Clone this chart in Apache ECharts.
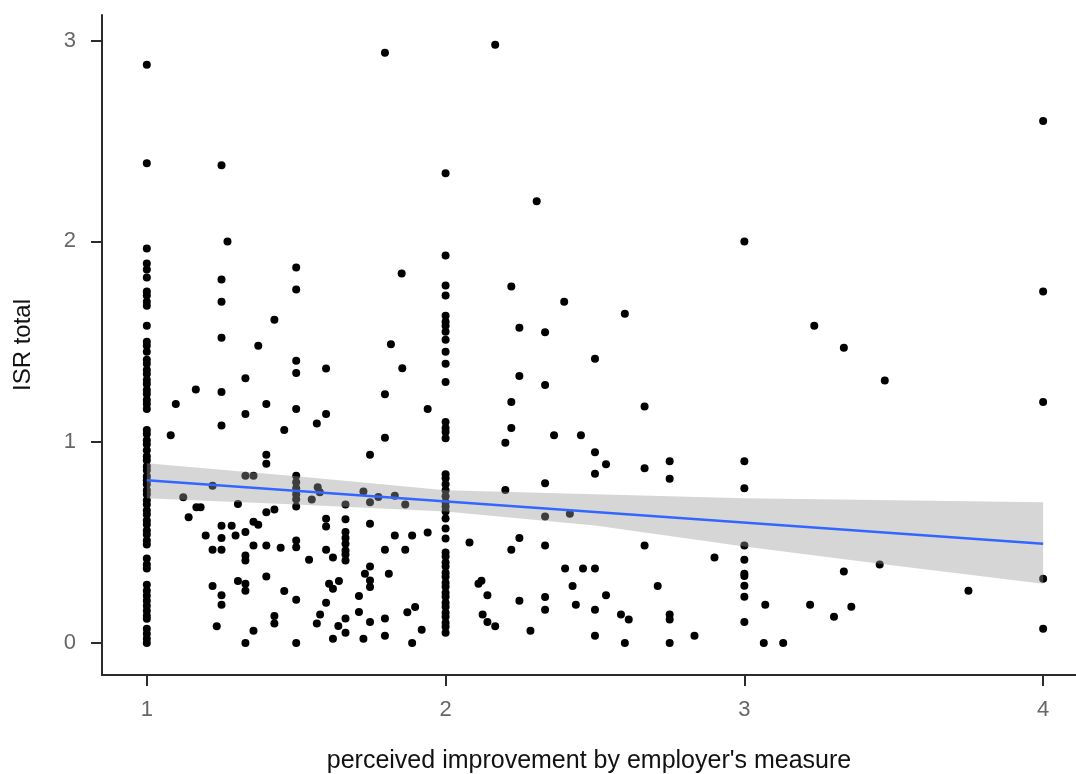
<!DOCTYPE html>
<html>
<head>
<meta charset="utf-8">
<script src="https://cdn.jsdelivr.net/npm/echarts@6/dist/echarts.min.js"></script>
<style>
html,body{margin:0;padding:0;background:#fff;}
#chart{width:1076px;height:774px;}
</style>
</head>
<body>
<div id="chart"></div>
<script>
// ---- data ----
const xTickValues = [1, 2, 3, 4];
const xTickLabels = ['1', '2', '3', '4'];
const yTickValues = [0, 1, 2, 3];
const yTickLabels = ['0', '1', '2', '3'];

const xTitle = "perceived improvement by employer's measure";
const yTitle = 'ISR total';

// stacked columns of respondents at a single x value
const col1x = 1;
const col1y = [2.88, 2.39, 1.965, 1.89, 1.86, 1.82, 1.75, 1.73, 1.70, 1.68, 1.58, 1.50, 1.48, 1.45, 1.41, 1.39, 1.36, 1.34, 1.31, 1.29, 1.26, 1.24, 1.21, 1.19, 1.165, 1.06, 1.04, 1.01, 0.99, 0.96, 0.93, 0.91, 0.88, 0.86, 0.83, 0.81, 0.79, 0.76, 0.74, 0.71, 0.69, 0.66, 0.64, 0.61, 0.59, 0.56, 0.54, 0.51, 0.49, 0.42, 0.39, 0.37, 0.29, 0.26, 0.235, 0.21, 0.185, 0.16, 0.135, 0.12, 0.07, 0.045, 0.02, 0.0];
const col2x = 2;
const col2y = [2.34, 1.93, 1.78, 1.73, 1.63, 1.60, 1.58, 1.55, 1.51, 1.45, 1.39, 1.30, 1.10, 1.07, 1.05, 1.02, 0.84, 0.82, 0.79, 0.76, 0.73, 0.70, 0.68, 0.655, 0.62, 0.57, 0.52, 0.45, 0.43, 0.40, 0.38, 0.35, 0.33, 0.30, 0.28, 0.25, 0.23, 0.20, 0.18, 0.15, 0.13, 0.10, 0.08, 0.05];
const col3x = 3;
const col3y = [2.0, 0.905, 0.77, 0.485, 0.414, 0.345, 0.333, 0.285, 0.23, 0.104];
const col4x = 4;
const col4y = [2.6, 1.75, 1.20, 0.32, 0.07];
const col15x = 1.5;
const col15y = [1.87, 1.76, 1.405, 1.345, 1.165, 0.833, 0.80, 0.77, 0.74, 0.715, 0.68, 0.51, 0.477, 0.215, 0.0];
const col125x = 1.25;
const col125y = [2.38, 1.81, 1.70, 1.52, 1.25, 1.083, 0.584, 0.522, 0.464, 0.237, 0.19];
const col133x = 1.33;
const col133y = [1.318, 1.14, 0.833, 0.552, 0.435, 0.41, 0.295, 0.26, 0.0];
const col1667x = 1.665;
const col1667y = [0.69, 0.616, 0.552, 0.522, 0.494, 0.46, 0.44, 0.41, 0.121, 0.051];
const col175x = 1.747;
const col175y = [0.937, 0.70, 0.593, 0.381, 0.311, 0.278, 0.104];
const col16x = 1.6;
const col16y = [1.367, 1.14, 0.618, 0.58, 0.464, 0.2];
const col18x = 1.797;
const col18y = [2.94, 1.239, 1.022, 0.464, 0.121, 0.036];

// remaining single points [x, y]
const otherPoints = [
  [1.08,1.035],[1.097,1.19],[1.122,0.726],[1.14,0.626],[1.164,1.262],[1.166,0.676],[1.18,0.676],
  [1.197,0.535],[1.22,0.783],[1.22,0.464],[1.22,0.283],[1.234,0.083],[1.27,2.0],[1.284,0.584],
  [1.297,0.535],[1.305,0.692],[1.305,0.308],[1.357,0.833],[1.357,0.604],[1.357,0.485],[1.357,0.06],
  [1.373,1.48],[1.373,0.588],[1.4,1.19],[1.4,0.937],[1.4,0.893],[1.4,0.651],[1.4,0.485],[1.4,0.331],
  [1.427,1.61],[1.427,0.664],[1.427,0.134],[1.427,0.096],[1.448,0.474],[1.46,1.06],[1.46,0.258],
  [1.543,0.414],[1.552,0.714],[1.569,1.093],[1.572,0.775],[1.579,0.75],[1.58,0.142],[1.569,0.096],
  [1.61,0.295],[1.623,0.425],[1.623,0.27],[1.623,0.021],[1.641,0.084],[1.643,0.308],
  [1.71,0.233],[1.71,0.154],[1.725,0.754],[1.725,0.021],[1.73,0.344],[1.775,0.727],[1.81,0.344],
  [1.817,1.488],[1.83,0.733],[1.83,0.535],[1.853,1.84],[1.855,1.368],[1.865,0.69],[1.865,0.464],
  [1.872,0.152],[1.888,0.535],[1.888,0.0],[1.898,0.179],[1.92,0.066],[1.94,1.165],[1.94,0.55],
  [2.08,0.50],[2.11,0.295],[2.12,0.31],[2.124,0.142],[2.14,0.237],[2.14,0.104],[2.166,2.98],
  [2.166,0.083],[2.2,0.997],[2.2,0.762],[2.22,1.775],[2.22,1.20],[2.22,1.07],[2.22,0.464],
  [2.247,1.57],[2.247,1.33],[2.247,0.523],[2.247,0.21],[2.284,0.06],[2.305,2.20],[2.333,1.547],
  [2.333,1.285],[2.333,0.795],[2.333,0.63],[2.333,0.485],[2.333,0.228],[2.333,0.165],[2.363,1.034],
  [2.397,1.70],[2.4,0.37],[2.416,0.643],[2.425,0.283],[2.436,0.19],[2.453,1.034],[2.46,0.37],
  [2.5,1.416],[2.5,0.95],[2.5,0.843],[2.5,0.37],[2.5,0.165],[2.5,0.036],[2.537,0.89],[2.537,0.237],
  [2.587,0.142],[2.6,1.64],[2.6,0.0],[2.613,0.116],[2.666,1.178],[2.666,0.87],[2.666,0.485],
  [2.71,0.283],[2.75,0.905],[2.75,0.818],[2.75,0.142],[2.75,0.117],[2.75,0.0],[2.833,0.036],[2.9,0.425],
  [3.07,0.19],[3.065,0.0],[3.13,0.0],[3.22,0.19],[3.234,1.58],[3.30,0.13],[3.333,1.47],[3.333,0.356],
  [3.358,0.18],[3.453,0.39],[3.47,1.307],[3.75,0.26]
];

// fitted line and its confidence band
const fitX = [1, 4];
const fitY = [0.81, 0.494];
const bandX = [1.0, 1.5, 2.0, 2.5, 3.0, 3.5, 4.0];
const bandLow = [0.72, 0.69, 0.655, 0.585, 0.48, 0.385, 0.295];
const bandHigh = [0.895, 0.83, 0.76, 0.74, 0.72, 0.71, 0.70];

// ---- build ----
const columns = [
  [col1x, col1y], [col2x, col2y], [col3x, col3y], [col4x, col4y], [col15x, col15y],
  [col125x, col125y], [col133x, col133y], [col1667x, col1667y], [col175x, col175y],
  [col16x, col16y], [col18x, col18y]
];
const scatterData = [];
columns.forEach(([cx, ys]) => ys.forEach(y => scatterData.push([cx, y])));
otherPoints.forEach(p => scatterData.push(p));

const fitData = fitX.map((x, i) => [x, fitY[i]]);
const bandData = bandX.map((x, i) => [x, bandLow[i], bandHigh[i]]);

const tickMap = (vals, labels) => v => {
  const i = vals.findIndex(t => Math.abs(t - v) < 1e-9);
  return i >= 0 ? labels[i] : '';
};

const axisColor = '#2b2b2b';
const labelColor = '#666666';
const fontFamily = '"Liberation Sans", Arial, sans-serif';

const chart = echarts.init(document.getElementById('chart'), null, {renderer: 'canvas'});
chart.setOption({
  backgroundColor: '#ffffff',
  animation: false,
  textStyle: {fontFamily: fontFamily},
  grid: {left: 102, right: 0, top: 15, bottom: 99, containLabel: false, outerBoundsMode: 'none'},
  xAxis: {
    type: 'value', min: 0.85, max: 4.11,
    name: xTitle, nameLocation: 'middle', nameGap: 74,
    nameTextStyle: {fontSize: 25, color: '#111', fontFamily: fontFamily},
    axisLine: {show: true, onZero: false, lineStyle: {color: axisColor, width: 2}},
    axisTick: {show: true, inside: false, length: 11, customValues: xTickValues, lineStyle: {color: axisColor, width: 2}},
    axisLabel: {show: true, customValues: xTickValues, formatter: tickMap(xTickValues, xTickLabels), margin: 24, fontSize: 22, color: labelColor, fontFamily: fontFamily},
    splitLine: {show: false}
  },
  yAxis: {
    type: 'value', min: -0.16, max: 3.128,
    name: yTitle, nameLocation: 'middle', nameGap: 67, nameRotate: 90,
    nameTextStyle: {fontSize: 24, color: '#111', fontFamily: fontFamily},
    axisLine: {show: true, onZero: false, lineStyle: {color: axisColor, width: 2}},
    axisTick: {show: true, inside: false, length: 11, customValues: yTickValues, lineStyle: {color: axisColor, width: 2}},
    axisLabel: {show: true, customValues: yTickValues, formatter: tickMap(yTickValues, yTickLabels), margin: 26, fontSize: 22, color: labelColor, fontFamily: fontFamily},
    splitLine: {show: false}
  },
  series: [
    {
      type: 'scatter', data: scatterData, symbol: 'circle', symbolSize: 8,
      itemStyle: {color: '#000000', opacity: 1}, z: 2, silent: true
    },
    {
      type: 'custom', z: 3, silent: true,
      data: bandData,
      renderItem: function (params, api) {
        if (params.dataIndex !== 0) return null;
        const pts = [];
        for (let i = 0; i < bandX.length; i++) pts.push(api.coord([bandX[i], bandHigh[i]]));
        for (let i = bandX.length - 1; i >= 0; i--) pts.push(api.coord([bandX[i], bandLow[i]]));
        return {type: 'polygon', shape: {points: pts}, style: {fill: 'rgba(153,153,153,0.4)'}};
      }
    },
    {
      type: 'line', data: fitData, symbol: 'none', z: 4, silent: true,
      lineStyle: {color: '#3366FF', width: 2.5}
    }
  ]
});
</script>
</body>
</html>
